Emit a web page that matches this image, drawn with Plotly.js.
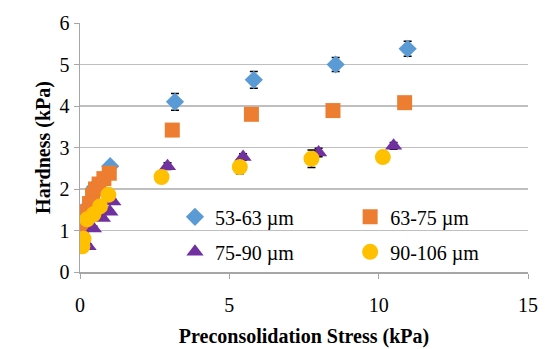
<!DOCTYPE html>
<html><head><meta charset="utf-8">
<script src="https://cdn.plot.ly/plotly-3.0.1.min.js"></script>
<style>html,body{margin:0;padding:0;background:#fff;}</style>
</head><body><div id="chart" style="width:553px;height:349px;"></div>
<script>
const names = ["53-63 µm", "63-75 µm", "75-90 µm", "90-106 µm"];
const xBlue = [0.05, 0.22, 0.5, 1.01, 3.18, 5.82, 8.56, 10.97];
const yBlue = [1.0, 1.55, 2.05, 2.55, 4.1, 4.63, 5.0, 5.38];
const eBlue = [0.05, 0.05, 0.05, 0.1, 0.2, 0.2, 0.17, 0.18];
const xOrange = [0.05, 0.12, 0.22, 0.32, 0.42, 0.52, 0.64, 0.8, 0.98, 3.09, 5.74, 8.47, 10.87];
const yOrange = [0.95, 1.2, 1.45, 1.65, 1.85, 2.0, 2.12, 2.25, 2.38, 3.42, 3.8, 3.89, 4.08];
const eOrange = [0.03, 0.03, 0.03, 0.03, 0.03, 0.03, 0.03, 0.03, 0.03, 0.03, 0.03, 0.03, 0.03];
const xPurple = [0.08, 0.27, 0.45, 0.75, 1.0, 1.1, 2.93, 5.46, 7.99, 10.5];
const yPurple = [0.65, 0.62, 1.05, 1.3, 1.45, 1.7, 2.55, 2.77, 2.88, 3.04];
const ePurple = [0.05, 0.05, 0.05, 0.05, 0.05, 0.05, 0.08, 0.08, 0.1, 0.08];
const xYellow = [0.08, 0.12, 0.24, 0.45, 0.67, 0.95, 2.73, 5.35, 7.75, 10.14];
const yYellow = [0.62, 0.8, 1.27, 1.39, 1.58, 1.86, 2.29, 2.53, 2.73, 2.77];
const eYellow = [0.05, 0.05, 0.05, 0.05, 0.05, 0.05, 0.1, 0.16, 0.21, 0.08];
const xTicks = [0, 5, 10, 15];
const yTicks = [0, 1, 2, 3, 4, 5, 6];

const font = "Liberation Serif, Times New Roman, serif";
function tr(x, y, e, name, sym, color, size, leg) {
  return {x: x, y: y, name: name, type: "scatter", mode: "markers", legend: leg, legendgroup: name,
    marker: {symbol: sym, color: color, size: size},
    error_y: {type: "data", array: e, visible: true, color: "#000", thickness: 1.5, width: 4}};
}
const data = [
  tr(xBlue, yBlue, eBlue, names[0], "diamond", "#5B9BD5", 14, "legend"),
  tr(xOrange, yOrange, eOrange, names[1], "square", "#ED7D31", 15, "legend2"),
  tr(xPurple, yPurple, ePurple, names[2], "triangle-up", "#7030A0", 15, "legend"),
  tr(xYellow, yYellow, eYellow, names[3], "circle", "#FFC000", 16, "legend2")
];
const legBase = {orientation: "v", y: 0.30, xanchor: "left", yanchor: "top",
  bgcolor: "rgba(255,255,255,0)", traceorder: "grouped", tracegroupgap: 6,
  font: {family: font, size: 20, color: "#000"}};
const layout = {
  width: 553, height: 349,
  margin: {l: 80, r: 25, t: 18, b: 77},
  paper_bgcolor: "#fff", plot_bgcolor: "#fff",
  font: {family: font, size: 20, color: "#000"},
  showlegend: true,
  legend: Object.assign({}, legBase, {x: 0.212}),
  legend2: Object.assign({}, legBase, {x: 0.603}),
  shapes: [{type: "rect", xref: "paper", yref: "paper", x0: 0.24, x1: 0.985, y0: 0.02, y1: 0.295,
    fillcolor: "#fff", line: {width: 0}, layer: "between"}],
  xaxis: {range: [0, 15], tickvals: xTicks, showgrid: false, zeroline: false, automargin: false,
    showline: true, linecolor: "#a6a6a6", linewidth: 1.5, ticks: "outside", ticklen: 5,
    tickcolor: "#a6a6a6", ticklabelstandoff: 9, tickfont: {family: font, size: 20},
    title: {text: "<b>Preconsolidation Stress (kPa)</b>", font: {family: font, size: 20}}},
  yaxis: {range: [0, 6], tickvals: yTicks, showgrid: true, gridcolor: "#bfbfbf", gridwidth: 1.5,
    zeroline: false, showline: true, linecolor: "#a6a6a6", linewidth: 1.5, ticks: "outside",
    automargin: true, ticksuffix: "\u00a0\u00a0\u00a0\u00a0",
    ticklen: 5, tickcolor: "#a6a6a6", tickfont: {family: font, size: 20},
    title: {text: "<b>Hardness (kPa)</b>", font: {family: font, size: 20}, standoff: 3}}
};
Plotly.newPlot("chart", data, layout, {displayModeBar: false, staticPlot: true});
</script></body></html>
